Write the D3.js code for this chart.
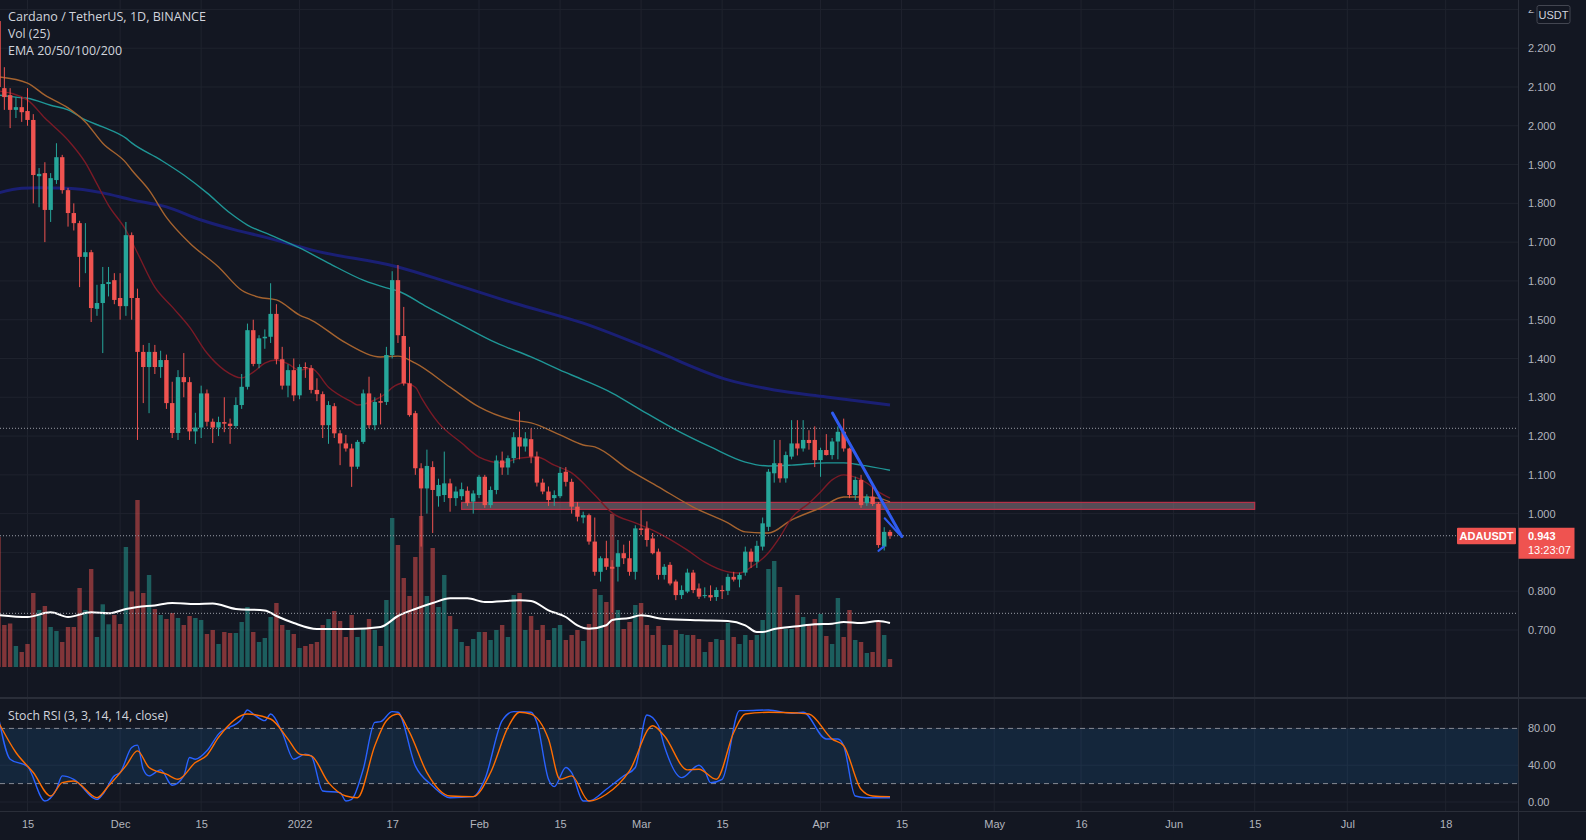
<!DOCTYPE html>
<html>
<head>
<meta charset="utf-8">
<script src="https://cdn.jsdelivr.net/npm/d3@7"></script>
<style>
  html, body { margin: 0; padding: 0; background: #131722; }
  svg { display: block; }
  text { font-family: "Liberation Sans", Arial, sans-serif; }
</style>
</head>
<body>
<script>
// ---- data ----
const candleStart = "2021-11-10";
// [open, high, low, close], one row per day from candleStart
const candles = [
  // Nov
  [2.270, 2.300, 1.940, 2.100], [2.097, 2.151, 2.041, 2.074], [2.079, 2.097, 1.994, 2.041], [2.041, 2.074, 2.020, 2.048],
  [2.048, 2.074, 2.010, 2.035], [2.038, 2.097, 2.000, 2.015], [2.015, 2.030, 1.800, 1.873], [1.870, 1.891, 1.790, 1.876],
  [1.878, 1.906, 1.700, 1.783], [1.783, 1.878, 1.752, 1.865], [1.860, 1.955, 1.850, 1.919], [1.919, 1.925, 1.825, 1.834],
  [1.834, 1.840, 1.740, 1.775], [1.775, 1.800, 1.730, 1.749], [1.749, 1.755, 1.584, 1.662], [1.662, 1.749, 1.620, 1.674],
  [1.674, 1.680, 1.494, 1.530], [1.528, 1.590, 1.510, 1.543], [1.543, 1.636, 1.414, 1.592], [1.592, 1.636, 1.560, 1.597],
  [1.602, 1.620, 1.540, 1.551],
  // Dec
  [1.556, 1.620, 1.500, 1.535], [1.535, 1.752, 1.510, 1.718], [1.718, 1.725, 1.500, 1.556], [1.556, 1.580, 1.190, 1.417],
  [1.417, 1.435, 1.285, 1.378], [1.378, 1.440, 1.259, 1.417], [1.417, 1.435, 1.360, 1.378], [1.378, 1.420, 1.350, 1.396],
  [1.396, 1.410, 1.270, 1.285], [1.285, 1.340, 1.195, 1.208], [1.208, 1.370, 1.190, 1.352], [1.352, 1.414, 1.300, 1.339],
  [1.339, 1.352, 1.190, 1.212], [1.212, 1.260, 1.180, 1.222], [1.222, 1.330, 1.195, 1.310], [1.310, 1.320, 1.225, 1.237],
  [1.237, 1.245, 1.182, 1.222], [1.222, 1.250, 1.200, 1.236], [1.236, 1.300, 1.210, 1.232], [1.232, 1.245, 1.180, 1.226],
  [1.226, 1.300, 1.220, 1.280], [1.280, 1.360, 1.270, 1.327], [1.327, 1.490, 1.320, 1.473], [1.473, 1.500, 1.380, 1.386],
  [1.386, 1.460, 1.375, 1.452], [1.452, 1.475, 1.425, 1.456], [1.456, 1.594, 1.440, 1.515], [1.515, 1.540, 1.385, 1.398],
  [1.398, 1.430, 1.320, 1.330], [1.330, 1.385, 1.300, 1.370], [1.370, 1.400, 1.290, 1.305],
  // Jan
  [1.305, 1.385, 1.295, 1.378], [1.378, 1.390, 1.350, 1.375], [1.375, 1.383, 1.310, 1.319], [1.319, 1.349, 1.290, 1.308],
  [1.308, 1.315, 1.195, 1.228], [1.228, 1.290, 1.180, 1.280], [1.277, 1.285, 1.195, 1.207], [1.207, 1.215, 1.125, 1.181],
  [1.181, 1.203, 1.160, 1.168], [1.168, 1.180, 1.069, 1.121], [1.121, 1.190, 1.115, 1.185], [1.185, 1.320, 1.180, 1.310],
  [1.310, 1.353, 1.220, 1.228], [1.228, 1.300, 1.215, 1.288], [1.290, 1.310, 1.230, 1.286], [1.288, 1.430, 1.280, 1.409],
  [1.409, 1.625, 1.400, 1.602], [1.602, 1.641, 1.440, 1.460], [1.458, 1.533, 1.330, 1.336], [1.336, 1.430, 1.250, 1.254],
  [1.259, 1.265, 1.100, 1.117], [1.117, 1.130, 0.915, 1.065], [1.065, 1.165, 1.000, 1.123], [1.120, 1.135, 0.950, 1.061],
  [1.045, 1.090, 1.018, 1.074], [1.048, 1.160, 1.030, 1.078], [1.078, 1.090, 1.005, 1.040], [1.040, 1.070, 1.020, 1.057],
  [1.045, 1.080, 1.035, 1.063], [1.059, 1.070, 1.020, 1.027], [1.031, 1.060, 1.000, 1.052],
  // Feb
  [1.048, 1.100, 1.040, 1.095], [1.095, 1.100, 1.015, 1.022], [1.022, 1.070, 1.015, 1.061], [1.061, 1.150, 1.050, 1.137],
  [1.137, 1.160, 1.100, 1.119], [1.119, 1.150, 1.100, 1.143], [1.143, 1.210, 1.130, 1.197], [1.197, 1.263, 1.140, 1.173],
  [1.173, 1.210, 1.160, 1.194], [1.192, 1.220, 1.130, 1.147], [1.147, 1.160, 1.070, 1.080], [1.080, 1.090, 1.050, 1.057],
  [1.057, 1.070, 1.020, 1.035], [1.040, 1.060, 1.020, 1.048], [1.045, 1.120, 1.040, 1.105], [1.108, 1.120, 1.070, 1.082],
  [1.082, 1.090, 1.000, 1.018], [1.018, 1.030, 0.980, 0.992], [0.990, 1.005, 0.975, 0.996], [0.996, 1.000, 0.920, 0.928],
  [0.928, 0.990, 0.840, 0.850], [0.850, 0.890, 0.825, 0.885], [0.885, 0.930, 0.855, 0.863], [0.863, 0.880, 0.745, 0.858],
  [0.863, 0.932, 0.825, 0.898], [0.898, 0.920, 0.870, 0.885], [0.885, 0.930, 0.840, 0.850], [0.850, 0.970, 0.830, 0.962],
  // Mar
  [0.962, 1.009, 0.945, 0.958], [0.962, 0.980, 0.915, 0.932], [0.936, 0.950, 0.895, 0.898], [0.902, 0.910, 0.830, 0.842],
  [0.842, 0.870, 0.830, 0.863], [0.868, 0.875, 0.815, 0.820], [0.825, 0.830, 0.777, 0.790], [0.790, 0.815, 0.780, 0.803],
  [0.799, 0.858, 0.795, 0.848], [0.848, 0.855, 0.795, 0.803], [0.807, 0.820, 0.780, 0.786], [0.788, 0.810, 0.782, 0.790],
  [0.790, 0.815, 0.775, 0.784], [0.785, 0.810, 0.775, 0.803], [0.803, 0.815, 0.780, 0.800], [0.801, 0.845, 0.790, 0.837],
  [0.837, 0.850, 0.825, 0.830], [0.830, 0.848, 0.810, 0.842], [0.848, 0.915, 0.840, 0.902], [0.902, 0.910, 0.860, 0.876],
  [0.876, 0.930, 0.860, 0.917], [0.915, 0.990, 0.905, 0.975], [0.966, 1.115, 0.955, 1.108], [1.104, 1.190, 1.080, 1.130],
  [1.130, 1.190, 1.080, 1.091], [1.091, 1.160, 1.080, 1.151], [1.147, 1.241, 1.140, 1.181], [1.181, 1.241, 1.150, 1.168],
  [1.168, 1.241, 1.160, 1.190], [1.190, 1.215, 1.165, 1.182], [1.190, 1.225, 1.120, 1.138],
  // Apr
  [1.138, 1.170, 1.095, 1.164], [1.164, 1.205, 1.150, 1.151], [1.151, 1.195, 1.140, 1.186], [1.186, 1.225, 1.140, 1.211],
  [1.211, 1.245, 1.160, 1.168], [1.168, 1.170, 1.040, 1.048], [1.048, 1.095, 1.035, 1.087], [1.087, 1.100, 1.015, 1.022],
  [1.027, 1.050, 1.020, 1.044], [1.044, 1.070, 1.020, 1.025], [1.025, 1.030, 0.912, 0.919], [0.915, 0.965, 0.905, 0.953],
  [0.953, 0.958, 0.935, 0.943]
];

// daily volume (relative units), same days as candles
const volume = [
  130, 42, 43.5, 21, 15, 23, 74, 57, 61, 40, 36, 25, 40, 40, 79, 57, 98, 30, 62.7, 42.7, 52,
  43, 120, 75.6, 167, 74, 92, 58, 52, 48, 54, 49, 42, 51, 49, 47, 33, 37, 23, 35, 34, 34, 45, 60, 35, 25, 29, 50, 64, 42, 37, 33,
  19, 21, 23, 25, 42, 48, 56, 46, 30, 52, 30, 38, 48, 37, 21, 67, 149, 122, 89, 71, 110, 151, 71, 119, 60, 92, 51, 38, 25, 21, 28,
  35, 35, 27, 37, 42, 30, 72, 74, 37, 51, 37, 42, 27, 39, 42, 27, 32, 37, 26, 43, 78, 72, 65, 153, 57, 38, 45, 62,
  64, 42, 32, 41, 22, 22, 37, 33, 32, 32, 28, 15, 25, 28, 27, 44, 30, 23, 32, 27, 32, 47, 98, 106, 80, 38, 38, 72, 50, 42, 48,
  53, 31, 23, 69, 30, 57, 27, 25, 14, 15, 45, 32, 8
];

const volMA = [
  ["2021-11-10", 52], ["2021-11-15", 50], ["2021-11-19", 54.7], ["2021-11-22", 50], ["2021-11-26", 54.7], ["2021-11-29", 53.7],
  ["2021-12-02", 58], ["2021-12-04", 60], ["2021-12-07", 61.6], ["2021-12-10", 64], ["2021-12-14", 63], ["2021-12-17", 63.5],
  ["2021-12-21", 58], ["2021-12-26", 56.6], ["2021-12-28", 51], ["2021-12-31", 44], ["2022-01-04", 38], ["2022-01-10", 38],
  ["2022-01-15", 40], ["2022-01-18", 51], ["2022-01-21", 58], ["2022-01-24", 64], ["2022-01-27", 68.7], ["2022-01-30", 68.7],
  ["2022-02-02", 65], ["2022-02-08", 66.7], ["2022-02-10", 66], ["2022-02-13", 56.7], ["2022-02-16", 50], ["2022-02-18", 41.7],
  ["2022-02-20", 38.3], ["2022-02-23", 41.7], ["2022-02-24", 47], ["2022-02-27", 49], ["2022-03-01", 51.7], ["2022-03-05", 48],
  ["2022-03-11", 46.7], ["2022-03-16", 46], ["2022-03-19", 41.7], ["2022-03-21", 35], ["2022-03-22", 35], ["2022-03-24", 38],
  ["2022-03-28", 40.7], ["2022-03-31", 42.7], ["2022-04-03", 43.3], ["2022-04-05", 45], ["2022-04-08", 44], ["2022-04-11", 46],
  ["2022-04-13", 44]
];

const ema20 = [
  ["2021-11-10", 2.090], ["2021-11-15", 2.066], ["2021-11-18", 2.020], ["2021-11-22", 1.963], ["2021-11-25", 1.905],
  ["2021-11-27", 1.850], ["2021-11-29", 1.795], ["2021-12-02", 1.731], ["2021-12-04", 1.672], ["2021-12-07", 1.584],
  ["2021-12-10", 1.533], ["2021-12-13", 1.481], ["2021-12-16", 1.414], ["2021-12-19", 1.370], ["2021-12-22", 1.350],
  ["2021-12-24", 1.365], ["2021-12-26", 1.388], ["2021-12-28", 1.396], ["2021-12-30", 1.386], ["2022-01-01", 1.370],
  ["2022-01-03", 1.375], ["2022-01-06", 1.326], ["2022-01-10", 1.288], ["2022-01-11", 1.280], ["2022-01-14", 1.293],
  ["2022-01-16", 1.311], ["2022-01-17", 1.325], ["2022-01-19", 1.337], ["2022-01-21", 1.326], ["2022-01-22", 1.300],
  ["2022-01-25", 1.234], ["2022-01-29", 1.182], ["2022-02-01", 1.146], ["2022-02-05", 1.131], ["2022-02-08", 1.143],
  ["2022-02-11", 1.146], ["2022-02-14", 1.125], ["2022-02-17", 1.105], ["2022-02-21", 1.048], ["2022-02-24", 1.002],
  ["2022-02-28", 0.976], ["2022-03-04", 0.950], ["2022-03-09", 0.906], ["2022-03-12", 0.875], ["2022-03-16", 0.850],
  ["2022-03-18", 0.847], ["2022-03-20", 0.862], ["2022-03-23", 0.899], ["2022-03-25", 0.940], ["2022-03-27", 0.989],
  ["2022-03-30", 1.027], ["2022-04-01", 1.056], ["2022-04-03", 1.087], ["2022-04-05", 1.100], ["2022-04-07", 1.094],
  ["2022-04-09", 1.079], ["2022-04-11", 1.056], ["2022-04-13", 1.040]
];
const ema50 = [
  ["2021-11-10", 2.126], ["2021-11-15", 2.110], ["2021-11-18", 2.079], ["2021-11-22", 2.046], ["2021-11-25", 2.010],
  ["2021-11-28", 1.955], ["2021-12-02", 1.905], ["2021-12-03", 1.886], ["2021-12-06", 1.834], ["2021-12-09", 1.764],
  ["2021-12-13", 1.698], ["2021-12-18", 1.636], ["2021-12-22", 1.576], ["2021-12-25", 1.558], ["2021-12-28", 1.551],
  ["2022-01-01", 1.512], ["2022-01-03", 1.499], ["2022-01-09", 1.440], ["2022-01-15", 1.404], ["2022-01-18", 1.406],
  ["2022-01-21", 1.388], ["2022-01-27", 1.326], ["2022-02-01", 1.275], ["2022-02-07", 1.241], ["2022-02-10", 1.234],
  ["2022-02-15", 1.203], ["2022-02-19", 1.177], ["2022-02-21", 1.172], ["2022-02-27", 1.112], ["2022-03-04", 1.069],
  ["2022-03-10", 1.017], ["2022-03-16", 0.976], ["2022-03-19", 0.953], ["2022-03-23", 0.950], ["2022-03-27", 0.984],
  ["2022-04-01", 1.015], ["2022-04-05", 1.043], ["2022-04-08", 1.043], ["2022-04-11", 1.040], ["2022-04-13", 1.030]
];
const ema100 = [
  ["2021-11-10", 2.079], ["2021-11-13", 2.074], ["2021-11-15", 2.071], ["2021-11-19", 2.053], ["2021-11-22", 2.041],
  ["2021-11-25", 2.015], ["2021-11-28", 1.997], ["2021-12-02", 1.968], ["2021-12-03", 1.956], ["2021-12-08", 1.912],
  ["2021-12-12", 1.873], ["2021-12-16", 1.827], ["2021-12-20", 1.775], ["2021-12-23", 1.744], ["2021-12-27", 1.718],
  ["2022-01-01", 1.685], ["2022-01-06", 1.646], ["2022-01-12", 1.602], ["2022-01-16", 1.582], ["2022-01-18", 1.574],
  ["2022-01-23", 1.533], ["2022-01-29", 1.486], ["2022-02-04", 1.440], ["2022-02-10", 1.404], ["2022-02-15", 1.370],
  ["2022-02-19", 1.345], ["2022-02-24", 1.311], ["2022-03-01", 1.267], ["2022-03-07", 1.216], ["2022-03-13", 1.172],
  ["2022-03-19", 1.133], ["2022-03-23", 1.123], ["2022-03-27", 1.125], ["2022-04-02", 1.131], ["2022-04-05", 1.131],
  ["2022-04-08", 1.125], ["2022-04-13", 1.112]
];
const ema200 = [
  ["2021-11-10", 1.827], ["2021-11-14", 1.839], ["2021-11-17", 1.840], ["2021-11-22", 1.839], ["2021-11-28", 1.827],
  ["2021-12-03", 1.809], ["2021-12-09", 1.791], ["2021-12-15", 1.757], ["2021-12-21", 1.731], ["2021-12-26", 1.713],
  ["2022-01-01", 1.688], ["2022-01-03", 1.680], ["2022-01-18", 1.636], ["2022-01-27", 1.595], ["2022-02-07", 1.543],
  ["2022-02-19", 1.491], ["2022-03-03", 1.422], ["2022-03-16", 1.345], ["2022-03-24", 1.319], ["2022-04-02", 1.301],
  ["2022-04-13", 1.280]
];

const stochK = [
  ["2021-11-10", 92], ["2021-11-12", 46.5], ["2021-11-15", 38.5], ["2021-11-18", 1.1], ["2021-11-20", 13.8], ["2021-11-21", 28.4],
  ["2021-11-23", 24.7], ["2021-11-27", 2.9], ["2021-11-28", 8.4], ["2021-11-30", 28.4], ["2021-12-01", 32], ["2021-12-03", 59.3],
  ["2021-12-04", 61.8], ["2021-12-05", 35.6], ["2021-12-06", 28.4], ["2021-12-08", 34.9], ["2021-12-10", 18.2], ["2021-12-12", 28.4],
  ["2021-12-13", 48.4], ["2021-12-14", 46.5], ["2021-12-16", 55.6], ["2021-12-18", 73.8], ["2021-12-22", 90.2], ["2021-12-23", 100],
  ["2021-12-24", 95.6], ["2021-12-26", 88.4], ["2021-12-27", 95.6], ["2021-12-29", 75.6], ["2021-12-31", 46.5], ["2022-01-02", 52],
  ["2022-01-03", 50.2], ["2022-01-05", 12], ["2022-01-08", 10.2], ["2022-01-09", 1.1], ["2022-01-10", 2.9], ["2022-01-12", 35.6],
  ["2022-01-14", 86.5], ["2022-01-15", 87.3], ["2022-01-17", 98.2], ["2022-01-18", 97.5], ["2022-01-21", 39.3], ["2022-01-24", 17.5],
  ["2022-01-27", 4.7], ["2022-01-31", 5.8], ["2022-02-02", 24.7], ["2022-02-05", 88.4], ["2022-02-07", 98.2], ["2022-02-10", 97.5],
  ["2022-02-11", 86.5], ["2022-02-13", 24.7], ["2022-02-14", 16.7], ["2022-02-16", 37.5], ["2022-02-17", 32], ["2022-02-19", 1.1],
  ["2022-02-20", 1.1], ["2022-02-23", 13.8], ["2022-02-26", 28.4], ["2022-02-28", 37.5], ["2022-03-02", 94.5], ["2022-03-04", 82.9],
  ["2022-03-05", 61.1], ["2022-03-08", 26.5], ["2022-03-11", 40], ["2022-03-12", 33.8], ["2022-03-13", 21.1], ["2022-03-15", 24.7],
  ["2022-03-18", 99.3], ["2022-03-19", 99.3], ["2022-03-23", 100], ["2022-03-27", 96.4], ["2022-03-29", 97.5], ["2022-04-02", 68.4],
  ["2022-04-04", 68.4], ["2022-04-05", 61.1], ["2022-04-07", 6.5], ["2022-04-09", 4.7], ["2022-04-13", 4.7]
];
const stochD = [
  ["2021-11-10", 86.5], ["2021-11-13", 53.8], ["2021-11-16", 32], ["2021-11-19", 6.5], ["2021-11-21", 21.1], ["2021-11-23", 22.9],
  ["2021-11-27", 4.7], ["2021-11-29", 17.5], ["2021-12-02", 39.3], ["2021-12-04", 55.6], ["2021-12-06", 37.5], ["2021-12-09", 30.2],
  ["2021-12-11", 24.7], ["2021-12-14", 42.9], ["2021-12-16", 50.9], ["2021-12-18", 70.2], ["2021-12-23", 95.6], ["2021-12-27", 90.2],
  ["2021-12-30", 68.4], ["2022-01-01", 52], ["2022-01-03", 50.2], ["2022-01-06", 21.1], ["2022-01-09", 6.5], ["2022-01-11", 4.7],
  ["2022-01-14", 61.1], ["2022-01-16", 88.4], ["2022-01-18", 95.6], ["2022-01-20", 75.6], ["2022-01-23", 32], ["2022-01-27", 6.5],
  ["2022-01-31", 5.8], ["2022-02-03", 32], ["2022-02-06", 81.1], ["2022-02-08", 97.5], ["2022-02-10", 95.6], ["2022-02-13", 68.4],
  ["2022-02-15", 24.7], ["2022-02-17", 28.4], ["2022-02-20", 1.1], ["2022-02-23", 8.4], ["2022-02-27", 33.8], ["2022-03-03", 82.9],
  ["2022-03-05", 72], ["2022-03-09", 34.9], ["2022-03-11", 35.6], ["2022-03-14", 24.7], ["2022-03-17", 75.6], ["2022-03-19", 95.6],
  ["2022-03-23", 97.5], ["2022-03-28", 96.7], ["2022-03-30", 95.6], ["2022-04-03", 68.4], ["2022-04-05", 61.1], ["2022-04-08", 13.8],
  ["2022-04-10", 6.5], ["2022-04-13", 5.8]
];

// drawings on the chart
const zoneBox = { from: "2022-01-29", to: "2022-06-15", low: 1.011, high: 1.029 };
const trendLines = [
  [["2022-04-03T02:00Z", 1.259], ["2022-04-15T01:00Z", 0.941]],
  [["2022-04-12T02:00Z", 0.988], ["2022-04-14T17:00Z", 0.945]],
  [["2022-04-11T00:00Z", 0.904], ["2022-04-11T22:00Z", 0.915]]
];
const dottedLevels = [1.22, 0.943, 0.743];

const priceTicks = [0.7, 0.8, 0.9, 1.0, 1.1, 1.2, 1.3, 1.4, 1.5, 1.6, 1.7, 1.8, 1.9, 2.0, 2.1, 2.2, 2.3];
const priceLabels = [0.7, 0.8, 1.0, 1.1, 1.2, 1.3, 1.4, 1.5, 1.6, 1.7, 1.8, 1.9, 2.0, 2.1, 2.2, 2.3];
const stochTicks = [0, 40, 80];
const timeTicks = [
  ["2021-11-15", "15"], ["2021-12-01", "Dec"], ["2021-12-15", "15"], ["2022-01-01", "2022"], ["2022-01-17", "17"],
  ["2022-02-01", "Feb"], ["2022-02-15", "15"], ["2022-03-01", "Mar"], ["2022-03-15", "15"], ["2022-04-01", "Apr"],
  ["2022-04-15", "15"], ["2022-05-01", "May"], ["2022-05-16", "16"], ["2022-06-01", "Jun"], ["2022-06-15", "15"],
  ["2022-07-01", "Jul"], ["2022-07-18", "18"]
];
const lastPrice = 0.943, countdown = "13:23:07";

// ---- layout ----
var W = 1586, H = 840;
var paneR = 1518, mainB = 697, stTop = 699, stB = 811;
var upC = "#26a69a", downC = "#ef5350";
var gridC = "#1f232e";

var parseDay = d3.utcParse("%Y-%m-%d");
var toDate = function (s) { return s.length > 10 ? new Date(s) : parseDay(s); };

var start = parseDay(candleStart);
var bars = candles.map(function (c, i) {
  return { date: d3.utcDay.offset(start, i), o: c[0], h: c[1], l: c[2], c: c[3], v: volume[i] };
});

var x = d3.scaleUtc().domain([parseDay("2021-11-15"), parseDay("2022-07-18")]).range([27.5, 1445.7]);
var y = d3.scaleLinear().domain([0.7, 2.2]).range([630, 48.2]);
var yVol = d3.scaleLinear().domain([0, 170]).range([667, 497]);
var yStoch = d3.scaleLinear().domain([0, 80]).range([802, 728.4]);
var bw = 4.4;

var svg = d3.select("body").append("svg").attr("width", W).attr("height", H);
svg.append("rect").attr("width", W).attr("height", H).attr("fill", "#131722");

var defs = svg.append("defs");
defs.append("clipPath").attr("id", "clipMain").append("rect")
  .attr("x", 0).attr("y", 0).attr("width", paneR).attr("height", mainB);
defs.append("clipPath").attr("id", "clipStoch").append("rect")
  .attr("x", 0).attr("y", stTop).attr("width", paneR).attr("height", stB - stTop);
// the top price label is partly hidden behind the USDT box
defs.append("clipPath").attr("id", "clipTopLabel").append("rect")
  .attr("x", 0).attr("y", 0).attr("width", 17).attr("height", 30);

// grid
var grid = svg.append("g");
timeTicks.forEach(function (t) {
  grid.append("line").attr("x1", x(toDate(t[0]))).attr("x2", x(toDate(t[0])))
    .attr("y1", 0).attr("y2", stB).attr("stroke", gridC);
});
priceTicks.forEach(function (p) {
  grid.append("line").attr("x1", 0).attr("x2", paneR).attr("y1", y(p)).attr("y2", y(p)).attr("stroke", gridC);
});
stochTicks.forEach(function (s) {
  grid.append("line").attr("x1", 0).attr("x2", paneR).attr("y1", yStoch(s)).attr("y2", yStoch(s)).attr("stroke", gridC);
});

// main pane
var main = svg.append("g").attr("clip-path", "url(#clipMain)");

main.selectAll(".vol").data(bars).enter().append("rect")
  .attr("x", function (d) { return x(d.date) - bw / 2; })
  .attr("width", bw)
  .attr("y", function (d) { return yVol(d.v); })
  .attr("height", function (d) { return yVol(0) - yVol(d.v); })
  .attr("fill", function (d) { return d.c >= d.o ? upC : downC; })
  .attr("fill-opacity", 0.5);

var volLine = d3.line().x(function (d) { return x(toDate(d[0])); }).y(function (d) { return yVol(d[1]); })
  .curve(d3.curveMonotoneX);
main.append("path").attr("d", volLine(volMA)).attr("fill", "none").attr("stroke", "#ffffff").attr("stroke-width", 2);

// support zone
main.append("rect")
  .attr("x", x(toDate(zoneBox.from))).attr("width", x(toDate(zoneBox.to)) - x(toDate(zoneBox.from)))
  .attr("y", y(zoneBox.high)).attr("height", y(zoneBox.low) - y(zoneBox.high))
  .attr("fill", "rgba(140,120,130,0.55)").attr("stroke", "#b8334a").attr("stroke-width", 1.2);

var priceLine = d3.line().x(function (d) { return x(toDate(d[0])); }).y(function (d) { return y(d[1]); })
  .curve(d3.curveMonotoneX);
[[ema200, "#1a1f74", 3], [ema100, "#1f9696", 1.4], [ema50, "#a5632f", 1.4], [ema20, "#7a1a26", 1.4]].forEach(function (e) {
  main.append("path").attr("d", priceLine(e[0])).attr("fill", "none")
    .attr("stroke", e[1]).attr("stroke-width", e[2]);
});

// dotted levels
dottedLevels.forEach(function (p) {
  main.append("line").attr("x1", 0).attr("x2", paneR).attr("y1", y(p)).attr("y2", y(p))
    .attr("stroke", "#9a9da6").attr("stroke-width", 1).attr("stroke-dasharray", "1,2");
});

// candles
var cg = main.selectAll(".candle").data(bars).enter().append("g");
cg.append("line")
  .attr("x1", function (d) { return x(d.date); }).attr("x2", function (d) { return x(d.date); })
  .attr("y1", function (d) { return y(d.h); }).attr("y2", function (d) { return y(d.l); })
  .attr("stroke", function (d) { return d.c >= d.o ? upC : downC; }).attr("stroke-width", 1);
cg.append("rect")
  .attr("x", function (d) { return x(d.date) - bw / 2; }).attr("width", bw)
  .attr("y", function (d) { return y(Math.max(d.o, d.c)); })
  .attr("height", function (d) { return Math.max(1, Math.abs(y(d.o) - y(d.c))); })
  .attr("fill", function (d) { return d.c >= d.o ? upC : downC; });

// trend lines
trendLines.forEach(function (t, i) {
  main.append("line")
    .attr("x1", x(toDate(t[0][0]))).attr("y1", y(t[0][1]))
    .attr("x2", x(toDate(t[1][0]))).attr("y2", y(t[1][1]))
    .attr("stroke", "#2f5cf0").attr("stroke-width", i === 0 ? 3 : 2).attr("stroke-linecap", "round");
});

// stoch pane
var st = svg.append("g").attr("clip-path", "url(#clipStoch)");
st.append("rect").attr("x", 0).attr("width", paneR)
  .attr("y", yStoch(80)).attr("height", yStoch(20) - yStoch(80))
  .attr("fill", "rgba(33,150,243,0.12)");
[80, 20].forEach(function (v) {
  st.append("line").attr("x1", 0).attr("x2", paneR).attr("y1", yStoch(v)).attr("y2", yStoch(v))
    .attr("stroke", "#868993").attr("stroke-dasharray", "5,4");
});
var stLine = d3.line().x(function (d) { return x(toDate(d[0])); }).y(function (d) { return yStoch(d[1]); })
  .curve(d3.curveMonotoneX);
st.append("path").attr("d", stLine(stochK)).attr("fill", "none").attr("stroke", "#2962ff").attr("stroke-width", 1.4);
st.append("path").attr("d", stLine(stochD)).attr("fill", "none").attr("stroke", "#ff6d00").attr("stroke-width", 1.4);

// separators
svg.append("line").attr("x1", paneR + 0.5).attr("x2", paneR + 0.5).attr("y1", 0).attr("y2", H).attr("stroke", "#2a2e39");
svg.append("line").attr("x1", 0).attr("x2", W).attr("y1", 698).attr("y2", 698).attr("stroke", "#2a2e39").attr("stroke-width", 2);
svg.append("line").attr("x1", 0).attr("x2", W).attr("y1", stB + 0.5).attr("y2", stB + 0.5).attr("stroke", "#2a2e39");

// axes
var pAxis = svg.append("g").attr("transform", "translate(" + paneR + ",0)")
  .call(d3.axisRight(y).tickValues(priceLabels).tickFormat(d3.format(".3f")).tickSize(0).tickPadding(10));
var sAxis = svg.append("g").attr("transform", "translate(" + paneR + ",0)")
  .call(d3.axisRight(yStoch).tickValues(stochTicks).tickFormat(d3.format(".2f")).tickSize(0).tickPadding(10));
var labelOf = new Map(timeTicks.map(function (t) { return [+toDate(t[0]), t[1]]; }));
var tAxis = svg.append("g").attr("transform", "translate(0," + stB + ")")
  .call(d3.axisBottom(x).tickValues(timeTicks.map(function (t) { return toDate(t[0]); }))
    .tickFormat(function (d) { return labelOf.get(+d); }).tickSize(0).tickPadding(9));
[pAxis, sAxis, tAxis].forEach(function (a) {
  a.select(".domain").remove();
  a.selectAll("text").attr("fill", "#b2b5be").style("font-size", "11px")
    .style("font-family", '"Liberation Sans", Arial, sans-serif');
});
pAxis.selectAll(".tick").filter(function (d) { return d === 2.3; }).attr("clip-path", "url(#clipTopLabel)");

// legend
var legend = [
  ["Cardano / TetherUS, 1D, BINANCE", 21, 198],
  ["Vol (25)", 38, 42],
  ["EMA 20/50/100/200", 55, 114]
];
legend.forEach(function (l) {
  svg.append("text").attr("x", 8).attr("y", l[1]).attr("fill", "#d1d4dc")
    .style("font-family", '"Open Sans", sans-serif').style("font-size", "13px")
    .attr("textLength", l[2]).attr("lengthAdjust", "spacingAndGlyphs").text(l[0]);
});
svg.append("text").attr("x", 8).attr("y", 720).attr("fill", "#d1d4dc")
  .style("font-family", '"Open Sans", sans-serif').style("font-size", "12px")
  .attr("textLength", 160).attr("lengthAdjust", "spacingAndGlyphs").text("Stoch RSI (3, 3, 14, 14, close)");

// USDT box over the top label
svg.append("rect").attr("x", 1537).attr("y", 5.5).attr("width", 33).attr("height", 18).attr("rx", 2)
  .attr("fill", "#131722").attr("stroke", "#434651");
svg.append("text").attr("x", 1553.5).attr("y", 18.5).attr("text-anchor", "middle").attr("fill", "#d1d4dc")
  .style("font-size", "11px").text("USDT");

// last price tags
var ly = y(lastPrice);
svg.append("rect").attr("x", 1457).attr("y", ly - 8).attr("width", 59).attr("height", 16.5).attr("fill", downC).attr("rx", 1);
svg.append("text").attr("x", 1486.5).attr("y", ly + 4).attr("text-anchor", "middle").attr("fill", "#ffffff")
  .style("font-size", "11px").style("font-weight", "bold").text("ADAUSDT");
svg.append("rect").attr("x", paneR + 0.5).attr("y", ly - 8).attr("width", 56).attr("height", 31).attr("fill", downC);
svg.append("text").attr("x", 1528).attr("y", ly + 4).attr("fill", "#ffffff")
  .style("font-size", "11px").style("font-weight", "bold").text(d3.format(".3f")(lastPrice));
svg.append("text").attr("x", 1528).attr("y", ly + 18).attr("fill", "#ffffff")
  .style("font-size", "11px").text(countdown);
</script>
</body>
</html>
